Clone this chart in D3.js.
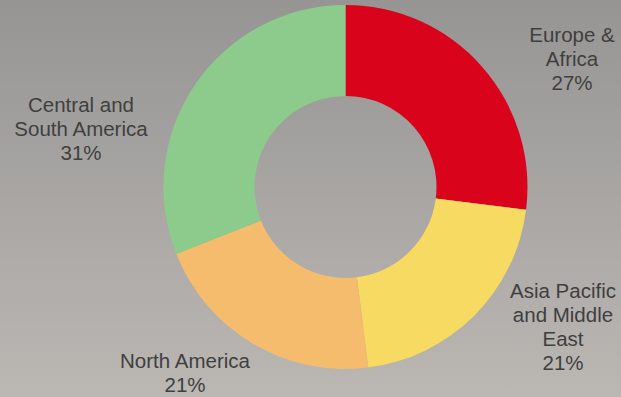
<!DOCTYPE html>
<html>
<head>
<meta charset="utf-8">
<script src="https://cdn.jsdelivr.net/npm/d3@7"></script>
<style>
html, body { margin: 0; padding: 0; }
</style>
</head>
<body>
<div id="root"></div>
<script>
var width = 621;
var height = 397;

// regions and share (%)
var regions = ["Europe & Africa", "Asia Pacific and Middle East", "North America", "Central and South America"];
var shares = [27, 21, 21, 31];
var colors = ["#d9031c", "#f7da61", "#f5bc6e", "#8dcb8c"];
// label lines as shown, with the percent as the last line
var labelLines = [
	["Europe &", "Africa"],
	["Asia Pacific", "and Middle", "East"],
	["North America"],
	["Central and", "South America"]
];
// where each label block sits (center x, first baseline y)
var labelPos = [[572, 42], [563, 298], [185, 368], [81, 112]];

var svg = d3.select("#root")
.append("svg")
.attr("width", width)
.attr("height", height);

var defs = svg.append("defs");
var grad = defs.append("linearGradient")
.attr("id", "bg")
.attr("x1", 0).attr("y1", 0)
.attr("x2", 0).attr("y2", 1);
grad.append("stop").attr("offset", "0%").attr("stop-color", "#969594");
grad.append("stop").attr("offset", "100%").attr("stop-color", "#bbb7b3");

svg.append("rect")
.attr("width", width)
.attr("height", height)
.attr("fill", "url(#bg)");

var cx = 345.5, cy = 187;

var pie = d3.pie()
.sort(null)
.value(function(d) { return d; });

var arc = d3.arc()
.innerRadius(91)
.outerRadius(182);

var data = pie(shares);

svg.append("g")
.attr("transform", "translate(" + cx + "," + cy + ")")
.selectAll("path")
.data(data)
.enter()
.append("path")
.attr("d", arc)
.attr("fill", function(d, i) { return colors[i]; });

var labels = svg.append("g")
.style("font-family", "'Liberation Sans', Arial, sans-serif")
.style("font-size", "20.5px")
.attr("fill", "#3f3f3f")
.attr("text-anchor", "middle");

regions.forEach(function(r, i) {
	var lines = labelLines[i].concat([shares[i] + "%"]);
	var t = labels.append("text")
	.attr("x", labelPos[i][0])
	.attr("y", labelPos[i][1]);
	lines.forEach(function(l, j) {
		t.append("tspan")
		.attr("x", labelPos[i][0])
		.attr("dy", j == 0 ? 0 : 24)
		.text(l);
	});
});
</script>
</body>
</html>
